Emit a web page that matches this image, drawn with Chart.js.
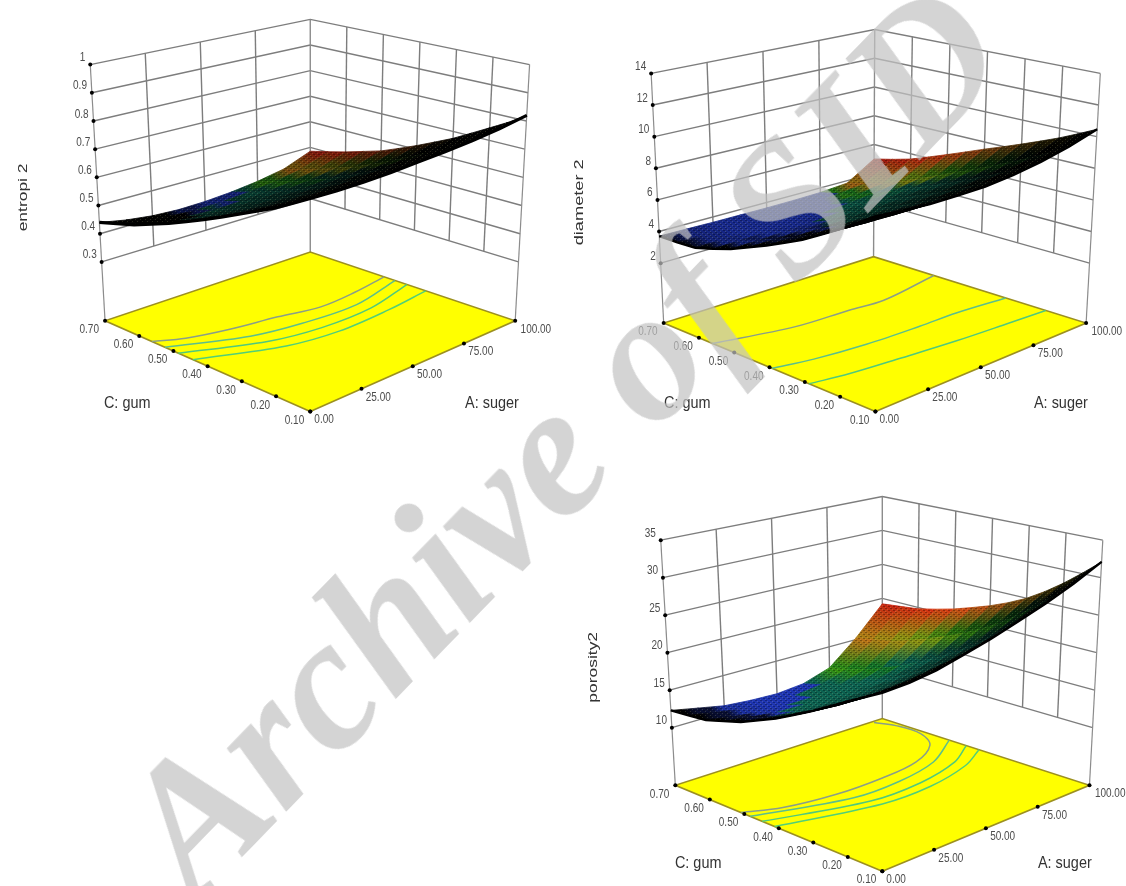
<!DOCTYPE html>
<html>
<head>
<meta charset="utf-8">
<title>Response surfaces</title>
<script src="https://cdn.jsdelivr.net/npm/chart.js@4"></script>
<style>
  html, body { margin: 0; background: #fff; overflow: hidden; }
  #page { position: relative; width: 1126px; height: 886px; overflow: hidden; }
  canvas { position: absolute; filter: blur(0.5px); }
  #watermark {
    position: absolute; left: 560px; top: 439px; white-space: nowrap;
    font: italic bold 189px "Liberation Serif", serif; color: rgba(194, 194, 194, 0.7);
    transform: translate(-50%, -50%) rotate(-45.8deg);
  }
</style>
</head>
<body>
<div id="page">
  <canvas id="entropi-chart" width="560" height="440" style="left:0;top:0"></canvas>
  <canvas id="diameter-chart" width="566" height="440" style="left:560px;top:0"></canvas>
  <canvas id="porosity-chart" width="556" height="406" style="left:570px;top:480px"></canvas>
  <div id="watermark">Archive of SID</div>
</div>
<script>
// A: suger across the columns, C: gum down the rows
const sugerValues = [0, 12.5, 25, 37.5, 50, 62.5, 75, 87.5, 100];
const gumValues = [0.1, 0.15, 0.2, 0.25, 0.3, 0.35, 0.4, 0.45, 0.5, 0.55, 0.6, 0.65, 0.7];
const sugerTicks = ['0.00', '25.00', '50.00', '75.00', '100.00'];
const gumTicks = ['0.10', '0.20', '0.30', '0.40', '0.50', '0.60', '0.70'];

const entropiTicks = [0.3, 0.4, 0.5, 0.6, 0.7, 0.8, 0.9, 1];
const entropiSurface = [
  [0.755, 0.754, 0.756, 0.76, 0.768, 0.776, 0.786, 0.8, 0.82],
  [0.722, 0.719, 0.719, 0.722, 0.728, 0.735, 0.745, 0.759, 0.78],
  [0.69, 0.686, 0.684, 0.687, 0.691, 0.699, 0.708, 0.722, 0.745],
  [0.662, 0.655, 0.652, 0.653, 0.657, 0.664, 0.672, 0.686, 0.71],
  [0.634, 0.625, 0.62, 0.619, 0.622, 0.629, 0.637, 0.65, 0.675],
  [0.605, 0.595, 0.589, 0.587, 0.59, 0.596, 0.604, 0.618, 0.645],
  [0.577, 0.565, 0.558, 0.555, 0.558, 0.564, 0.572, 0.586, 0.615],
  [0.55, 0.537, 0.529, 0.526, 0.528, 0.534, 0.543, 0.557, 0.587],
  [0.524, 0.51, 0.501, 0.497, 0.499, 0.504, 0.513, 0.529, 0.56],
  [0.5, 0.485, 0.476, 0.472, 0.474, 0.48, 0.49, 0.506, 0.54],
  [0.476, 0.46, 0.45, 0.446, 0.449, 0.455, 0.466, 0.484, 0.52],
  [0.458, 0.44, 0.43, 0.425, 0.428, 0.434, 0.445, 0.464, 0.502],
  [0.44, 0.422, 0.41, 0.405, 0.407, 0.414, 0.426, 0.445, 0.485],
];
const entropiContours = [
  [[0, 0.563], [11, 0.53], [28, 0.503], [48, 0.483], [65, 0.459], [83, 0.466], [100, 0.484]],
  [[0, 0.525], [29, 0.449], [50, 0.423], [75, 0.414], [100, 0.452]],
  [[0, 0.486], [30, 0.405], [52, 0.378], [76, 0.379], [100, 0.417]],
  [[0, 0.443], [32, 0.362], [54, 0.339], [79, 0.345], [100, 0.362]],
];

const diameterTicks = [2, 4, 6, 8, 10, 12, 14];
const diameterSurface = [
  [9.14, 9.0, 8.9, 8.91, 8.94, 9.13, 9.44, 9.87, 10.47],
  [8.45, 8.33, 8.27, 8.28, 8.34, 8.52, 8.82, 9.25, 9.92],
  [7.76, 7.67, 7.64, 7.67, 7.74, 7.93, 8.22, 8.64, 9.39],
  [7.12, 7.06, 7.06, 7.11, 7.2, 7.39, 7.68, 8.09, 8.91],
  [6.49, 6.46, 6.48, 6.55, 6.66, 6.86, 7.14, 7.55, 8.44],
  [5.97, 5.96, 5.99, 6.06, 6.18, 6.37, 6.64, 7.02, 7.98],
  [5.45, 5.46, 5.51, 5.59, 5.7, 5.89, 6.15, 6.52, 7.53],
  [4.97, 4.99, 5.05, 5.13, 5.24, 5.42, 5.65, 5.99, 7.05],
  [4.49, 4.52, 4.58, 4.66, 4.77, 4.93, 5.15, 5.47, 6.57],
  [4.12, 4.14, 4.2, 4.26, 4.36, 4.5, 4.68, 4.96, 6.1],
  [3.79, 3.81, 3.85, 3.9, 3.98, 4.09, 4.23, 4.48, 5.64],
  [3.72, 3.71, 3.73, 3.75, 3.79, 3.86, 3.95, 4.14, 5.3],
  [3.71, 3.69, 3.66, 3.65, 3.64, 3.65, 3.69, 3.83, 5.0],
];
const diameterContours = [
  [[0, 0.562], [32, 0.517], [56, 0.508], [71, 0.499], [100, 0.53]],
  [[0, 0.393], [16, 0.37], [38, 0.352], [62, 0.344], [79, 0.342], [100, 0.327]],
  [[0, 0.288], [16, 0.268], [38, 0.251], [61, 0.234], [84, 0.222], [100, 0.214]],
];

const porosityTicks = [10, 15, 20, 25, 30, 35];
const porositySurface = [
  [23.5, 23.7, 24.2, 25.1, 26.1, 27.3, 28.6, 30.2, 32.1],
  [22.3, 22.34, 22.66, 23.41, 24.2, 25.23, 26.46, 28.14, 30.1],
  [21.1, 20.99, 21.15, 21.71, 22.35, 23.24, 24.39, 26.13, 28.2],
  [19.8, 19.59, 19.62, 20.03, 20.55, 21.34, 22.44, 24.28, 26.5],
  [18.5, 18.2, 18.13, 18.44, 18.85, 19.56, 20.65, 22.62, 25.0],
  [17.3, 16.95, 16.79, 17.01, 17.35, 18.01, 19.1, 21.23, 23.8],
  [16.1, 15.71, 15.49, 15.65, 15.94, 16.57, 17.67, 19.99, 22.77],
  [15.1, 14.67, 14.39, 14.48, 14.7, 15.3, 16.43, 18.91, 21.9],
  [14.1, 13.64, 13.29, 13.31, 13.49, 14.06, 15.21, 17.87, 21.07],
  [13.4, 12.89, 12.46, 12.4, 12.5, 13.03, 14.19, 17.0, 20.4],
  [12.7, 12.14, 11.66, 11.51, 11.55, 12.04, 13.22, 16.19, 19.8],
  [12.5, 11.88, 11.29, 11.05, 11.0, 11.43, 12.59, 15.72, 19.5],
  [12.3, 11.6, 10.9, 10.6, 10.46, 10.8, 12.0, 15.2, 19.2],
];
const porosityContours = [
  [[0, 0.51], [14, 0.472], [36, 0.449], [58, 0.448], [77, 0.464], [92, 0.514], [98, 0.577], [98, 0.649], [95, 0.694]],
  [[0, 0.483], [38, 0.411], [60, 0.41], [81, 0.438], [100, 0.506]],
  [[0, 0.448], [40, 0.374], [64, 0.373], [86, 0.406], [100, 0.457]],
  [[0, 0.412], [41, 0.346], [64, 0.344], [86, 0.375], [100, 0.42]],
];

const contourColors = ['#8a9f88', '#5cbf8c', '#50c97c', '#52cf78'];

// box corners on the page: floor and top plane, front/right/back/left
const panels = [
  {
    id: 'entropi-chart', box: { left: 0, top: 0, width: 560, height: 440 },
    floor: [[310.7, 415], [518.6, 322.7], [310.7, 252.7], [102.5, 322.7]],
    roof: [[310.7, 118], [533.2, 61.7], [310.7, 15.7], [87.5, 61.7]],
    gap: 0.23, title: 'entropi 2', titleAt: [19.5, 197], titleStretch: 1.34,
    zTicks: entropiTicks, surface: entropiSurface, contours: entropiContours,
    blue: { start: 0.32, slope: 2, fade: 0.3 }, shade: 0.72, dark: 0.6, edgeWidth: 3.2,
    gumLabelAt: [125, 407], sugerLabelAt: [495, 407],
  },
  {
    id: 'diameter-chart', box: { left: 560, top: 0, width: 566, height: 440 },
    floor: [[875.9, 415], [1089.6, 325], [874, 257.3], [661.1, 325]],
    roof: [[875, 128], [1104, 70.7], [875.2, 26], [648.4, 70.7]],
    gap: 0.24, title: 'diameter 2', titleAt: [576, 202], titleStretch: 1.4,
    zTicks: diameterTicks, surface: diameterSurface, contours: diameterContours,
    blue: { start: 0.15, slope: 1.2, fade: 0 }, shade: 0.9, dark: 0.2, edgeWidth: 2.4,
    gumLabelAt: [685, 407], sugerLabelAt: [1064, 407],
  },
  {
    id: 'porosity-chart', box: { left: 570, top: 480, width: 556, height: 406 },
    floor: [[882.8, 875], [1093, 787.3], [882.8, 719.3], [672.8, 787.3]],
    roof: [[882.8, 594.3], [1106.5, 537.3], [882.8, 492.7], [658, 537.3]],
    gap: 0.235, title: 'porosity2', titleAt: [589.5, 667], titleStretch: 1.34,
    zTicks: porosityTicks, surface: porositySurface, contours: porosityContours,
    blue: { start: 0.3, slope: 1.63, fade: 0.12 }, shade: 1.15, dark: 0.1, edgeWidth: 2.4,
    gumLabelAt: [696, 867], sugerLabelAt: [1068, 867],
  },
];

// tick marks sit evenly along the box edges, so the planes are plain bilinear
const planeMap = ([f, r, b, l]) => (u, v) => ({
  x: f[0] * (1 - u) * (1 - v) + r[0] * u * (1 - v) + b[0] * u * v + l[0] * (1 - u) * v,
  y: f[1] * (1 - u) * (1 - v) + r[1] * u * (1 - v) + b[1] * u * v + l[1] * (1 - u) * v,
});

const clamp = (v) => Math.max(0, Math.min(1, v));

const heatStops = [
  [0, [10, 85, 70]], [0.1, [15, 100, 30]], [0.3, [45, 125, 15]], [0.48, [125, 125, 15]],
  [0.68, [170, 95, 20]], [0.88, [185, 45, 15]], [1, [175, 30, 15]],
];

const cellColor = (panel, u, v) => {
  const p = 1 - u;
  const q = 1 - v;
  let bright = clamp(1.7 * v - panel.dark) * clamp(4.5 * u + 2.5 * (v - 0.6)) * panel.shade;
  let rgb;
  if (p - panel.blue.slope * q > panel.blue.start) {
    rgb = [25, 45, 155];
    bright *= clamp((u - panel.blue.fade) * 5 + 0.25);
  } else {
    const heat = clamp(1 - (2.8 * p + 0.6 * q + p * q));
    let i = 1;
    while (i < heatStops.length - 1 && heatStops[i][0] < heat) i += 1;
    const [t0, c0] = heatStops[i - 1];
    const [t1, c1] = heatStops[i];
    const k = (heat - t0) / (t1 - t0);
    rgb = c0.map((c, n) => c + (c1[n] - c) * k);
  }
  return `rgb(${rgb.map((c) => Math.min(255, Math.round(c * bright))).join(',')})`;
};

const makeMeshPattern = (ctx) => {
  const tile = document.createElement('canvas');
  tile.width = 5;
  tile.height = 4;
  const t = tile.getContext('2d');
  t.fillStyle = 'rgba(0,0,0,0.3)';
  t.fillRect(0, 0, 2, 1);
  t.fillRect(3, 2, 2, 1);
  t.fillStyle = 'rgba(255,255,170,0.16)';
  t.fillRect(2, 1, 1, 1);
  t.fillRect(0, 3, 1, 1);
  return ctx.createPattern(tile, 'repeat');
};

const buildPanel = (panel) => {
  const canvas = document.getElementById(panel.id);
  const ctx = canvas.getContext('2d');
  const onFloor = planeMap(panel.floor);
  const onRoof = planeMap(panel.roof);
  const zLow = panel.zTicks[0];
  const zHigh = panel.zTicks[panel.zTicks.length - 1];

  // height 0 is the floor, height 1 the top of the walls
  const atHeight = (u, v, t) => {
    const g = onFloor(u, v);
    const r = onRoof(u, v);
    return { x: g.x + (r.x - g.x) * t, y: g.y + (r.y - g.y) * t };
  };
  const project = (u, v, z) => atHeight(u, v, panel.gap + (1 - panel.gap) * (z - zLow) / (zHigh - zLow));
  const sugerPos = (value) => value / 100;
  const gumPos = (value) => (value - 0.1) / 0.6;

  const layers = [];
  const line = (data, color, width, extra) => layers.push({
    data, showLine: true, borderColor: color, borderWidth: width, pointRadius: 0, fill: false, ...extra,
  });
  const polygon = (data, fillColor, edge, width) => layers.push({
    data, showLine: true, borderColor: edge, borderWidth: width, backgroundColor: fillColor, pointRadius: 0, fill: 'shape',
  });
  const gridColor = '#7d7d7d';

  // walls
  panel.zTicks.forEach((z) => {
    line([project(0, 1, z), project(1, 1, z), project(1, 0, z)], gridColor, 1.4);
  });
  [0.25, 0.5, 0.75].forEach((u) => line([atHeight(u, 1, 1), project(u, 1, zLow)], gridColor, 1.4));
  [1, 2, 3, 4, 5].forEach((n) => line([atHeight(1, n / 6, 1), project(1, n / 6, zLow)], gridColor, 1.4));
  line([atHeight(0, 1, 1), atHeight(0, 1, 0)], '#8c8c8c', 1.2);
  line([atHeight(1, 1, 1), atHeight(1, 1, 0)], '#8c8c8c', 1.4);
  line([atHeight(1, 0, 1), atHeight(1, 0, 0)], '#8c8c8c', 1.2);
  layers.push({
    data: panel.zTicks.map((z) => project(0, 1, z)), showLine: false,
    pointRadius: 2, pointBackgroundColor: '#000', pointBorderWidth: 0,
  });

  // floor with contours and ticks
  polygon([onFloor(0, 0), onFloor(1, 0), onFloor(1, 1), onFloor(0, 1), onFloor(0, 0)], '#ffff00', '#9c9020', 1.6);
  panel.contours.forEach((contour, n) => {
    line(contour.map(([a, c]) => onFloor(sugerPos(a), gumPos(c))), contourColors[n], 1.5, { tension: 0.35 });
  });
  layers.push({
    data: [
      ...sugerTicks.map((t) => onFloor(sugerPos(parseFloat(t)), 0)),
      ...gumTicks.map((t) => onFloor(0, gumPos(parseFloat(t)))),
    ],
    showLine: false, pointRadius: 2, pointBackgroundColor: '#000', pointBorderWidth: 0,
  });

  // surface, painted from the back corner to the front corner
  const z = panel.surface;
  for (let i = sugerValues.length - 2; i >= 0; i -= 1) {
    for (let j = gumValues.length - 2; j >= 0; j -= 1) {
      const quad = [
        project(sugerPos(sugerValues[i]), gumPos(gumValues[j]), z[j][i]),
        project(sugerPos(sugerValues[i + 1]), gumPos(gumValues[j]), z[j][i + 1]),
        project(sugerPos(sugerValues[i + 1]), gumPos(gumValues[j + 1]), z[j + 1][i + 1]),
        project(sugerPos(sugerValues[i]), gumPos(gumValues[j + 1]), z[j + 1][i]),
      ];
      quad.push(quad[0]);
      const shading = ctx.createLinearGradient(
        quad[2].x - panel.box.left, quad[2].y - panel.box.top,
        quad[0].x - panel.box.left, quad[0].y - panel.box.top,
      );
      shading.addColorStop(0, cellColor(panel, (i + 1) / 8, (j + 1) / 12));
      shading.addColorStop(1, cellColor(panel, i / 8, j / 12));
      polygon(quad, shading, shading, 0.8);
    }
  }
  const lastRow = gumValues.length - 1;
  const lastCol = sugerValues.length - 1;
  const edgePoint = (i, j) => project(sugerPos(sugerValues[i]), gumPos(gumValues[j]), z[j][i]);
  const outline = [
    ...sugerValues.map((_, i) => edgePoint(i, lastRow)),
    ...gumValues.map((_, j) => edgePoint(lastCol, lastRow - j)),
    ...sugerValues.map((_, i) => edgePoint(lastCol - i, 0)),
    ...gumValues.map((_, j) => edgePoint(0, j)),
  ];
  polygon(outline, makeMeshPattern(ctx), 'rgba(0,0,0,0)', 0);
  line([
    ...gumValues.map((_, j) => edgePoint(0, lastRow - j)),
    ...sugerValues.map((_, i) => edgePoint(i, 0)),
  ], '#000', panel.edgeWidth);

  const textLayer = {
    id: 'axisText',
    afterDatasetsDraw(chart) {
      const c = chart.ctx;
      const x = chart.scales.x;
      const y = chart.scales.y;
      const put = (text, pageX, pageY, opts) => {
        const { size = 12.5, squeeze = 0.8, align = 'center', angle = 0, color = '#4d4d4d' } = opts || {};
        c.save();
        c.translate(x.getPixelForValue(pageX), y.getPixelForValue(pageY));
        c.rotate(angle);
        c.scale(squeeze, 1);
        c.font = `${size}px "Liberation Sans", sans-serif`;
        c.fillStyle = color;
        c.textAlign = align;
        c.textBaseline = 'middle';
        c.fillText(text, 0, 0);
        c.restore();
      };
      panel.zTicks.forEach((value) => {
        const p = project(0, 1, value);
        put(String(value), p.x - 5, p.y - 7, { align: 'right' });
      });
      gumTicks.forEach((t) => {
        const p = onFloor(0, gumPos(parseFloat(t)));
        put(t, p.x - 16, p.y + 9);
      });
      sugerTicks.forEach((t) => {
        const p = onFloor(sugerPos(parseFloat(t)), 0);
        put(t, p.x + (t === '0.00' ? 14 : t === '100.00' ? 21 : 17), p.y + 8.5);
      });
      put('C: gum', panel.gumLabelAt[0], panel.gumLabelAt[1], { size: 17, squeeze: 0.85, color: '#333' });
      put('A: suger', panel.sugerLabelAt[0], panel.sugerLabelAt[1], { size: 17, squeeze: 0.85, color: '#333' });
      put(panel.title, panel.titleAt[0], panel.titleAt[1], {
        size: 13, squeeze: panel.titleStretch, angle: -Math.PI / 2, color: '#333',
      });
    },
  };

  return new Chart(canvas, {
    type: 'scatter',
    // the library paints its first dataset last
    data: { datasets: layers.slice().reverse() },
    options: {
      responsive: false,
      animation: false,
      events: [],
      layout: { padding: 0 },
      clip: false,
      scales: {
        x: { display: false, min: panel.box.left, max: panel.box.left + panel.box.width },
        y: { display: false, reverse: true, min: panel.box.top, max: panel.box.top + panel.box.height },
      },
      plugins: { legend: { display: false }, tooltip: { enabled: false }, title: { display: false } },
    },
    plugins: [textLayer],
  });
};

panels.forEach(buildPanel);
</script>
</body>
</html>
